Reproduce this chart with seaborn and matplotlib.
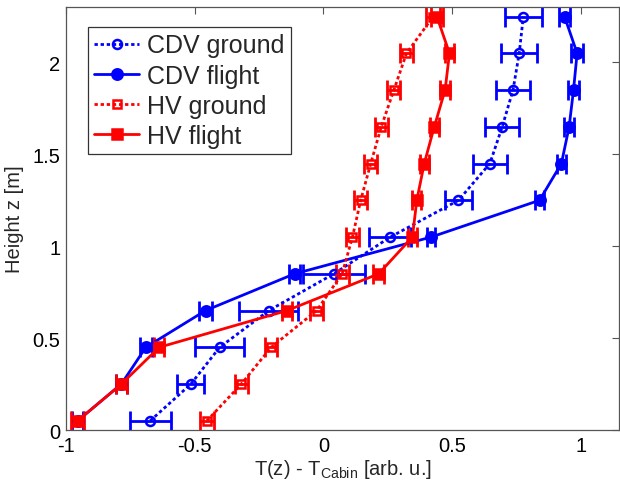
import numpy as np
import pandas as pd
import matplotlib
matplotlib.use("Agg")
import matplotlib.pyplot as plt
import seaborn as sns

# ---- data ----
heights = [0.05, 0.25, 0.45, 0.65, 0.85, 1.05, 1.25, 1.45, 1.65, 1.85, 2.05, 2.25]

cdv_ground = [-0.673, -0.515, -0.403, -0.212, 0.041, 0.260, 0.525, 0.647, 0.695, 0.737, 0.761, 0.777]
cdv_ground_err = [0.079, 0.053, 0.095, 0.115, 0.119, 0.081, 0.051, 0.066, 0.067, 0.066, 0.070, 0.073]

cdv_flight = [-0.955, -0.785, -0.690, -0.458, -0.112, 0.419, 0.840, 0.925, 0.955, 0.972, 0.986, 0.937]
cdv_flight_err = [0.022, 0.020, 0.024, 0.027, 0.020, 0.016, 0.018, 0.018, 0.020, 0.020, 0.022, 0.020]

hv_ground = [-0.453, -0.319, -0.203, -0.026, 0.073, 0.113, 0.145, 0.184, 0.225, 0.274, 0.323, 0.427]
hv_ground_err = [0.027, 0.025, 0.022, 0.025, 0.025, 0.025, 0.025, 0.025, 0.025, 0.025, 0.025, 0.027]

hv_flight = [-0.955, -0.785, -0.638, -0.141, 0.215, 0.346, 0.363, 0.392, 0.431, 0.473, 0.490, 0.441]
hv_flight_err = [0.025, 0.020, 0.020, 0.020, 0.022, 0.018, 0.018, 0.018, 0.018, 0.018, 0.018, 0.022]

series_names = ["CDV ground", "CDV flight", "HV ground", "HV flight"]
x_ticks = [-1, -0.5, 0, 0.5, 1]
x_tick_labels = ["-1", "-0.5", "0", "0.5", "1"]
y_ticks = [0, 0.5, 1, 1.5, 2]
y_tick_labels = ["0", "0.5", "1", "1.5", "2"]

# ---- style ----
sns.set_theme(style="white")
plt.rcParams["font.family"] = ["Liberation Sans", "DejaVu Sans"]
plt.rcParams["mathtext.fontset"] = "custom"
plt.rcParams["mathtext.rm"] = "Liberation Sans"
plt.rcParams["mathtext.it"] = "Liberation Sans"
plt.rcParams["axes.unicode_minus"] = False

fig = plt.figure(figsize=(6.2, 4.89), dpi=100)
ax = fig.add_axes([0.1065, 0.1186, 0.8924, 0.8644])

specs = [
    (series_names[0], cdv_ground, cdv_ground_err, "#0000ff", (0, (1.2, 1.0)), "o", "none", 6.5),
    (series_names[1], cdv_flight, cdv_flight_err, "#0000ff", "-", "o", "#0000ff", 7.5),
    (series_names[2], hv_ground, hv_ground_err, "#ff0000", (0, (1.2, 1.0)), "s", "none", 5.5),
    (series_names[3], hv_flight, hv_flight_err, "#ff0000", "-", "s", "#ff0000", 6.5),
]

handles = []
for name, xs, errs, col, ls, mk, mfc, ms in specs:
    df = pd.DataFrame({"x": xs, "z": heights})
    sns.lineplot(data=df, x="x", y="z", sort=False, orient="y", ax=ax,
                 color=col, linestyle=ls, linewidth=2.0, marker=mk,
                 markersize=ms, markerfacecolor=mfc, markeredgecolor=col,
                 markeredgewidth=1.8, label=name, zorder=3)
    ax.errorbar(xs, heights, xerr=errs, fmt="none", ecolor=col,
                elinewidth=2.0, capsize=7.5, capthick=2.0, zorder=2)

ax.set_xlim(-1, 1.15)
ax.set_ylim(0, 2.3)
ax.set_xticks(x_ticks)
ax.set_xticklabels(x_tick_labels)
ax.set_yticks(y_ticks)
ax.set_yticklabels(y_tick_labels)
ax.tick_params(direction="in", length=5, width=0.8, color="#555555",
               top=True, right=True, labelsize=14.5, pad=4,
               labelcolor="black")
for sp in ax.spines.values():
    sp.set_color("#555555")
    sp.set_linewidth(0.9)

ax.set_xlabel(r"T(z) - T$_{\mathrm{Cabin}}$ [arb. u.]", fontsize=14.5, labelpad=2)
ax.set_ylabel("Height z [m]", fontsize=14.5, labelpad=6)

leg = ax.legend(loc="upper left", bbox_to_anchor=(0.04, 0.953), borderaxespad=0,
                fontsize=18, frameon=True, fancybox=False, framealpha=1,
                edgecolor="#333333", handlelength=1.8, handletextpad=0.3,
                borderpad=0.25, labelspacing=0.25)
leg.get_frame().set_linewidth(0.9)

fig.savefig("out.png", dpi=100)
